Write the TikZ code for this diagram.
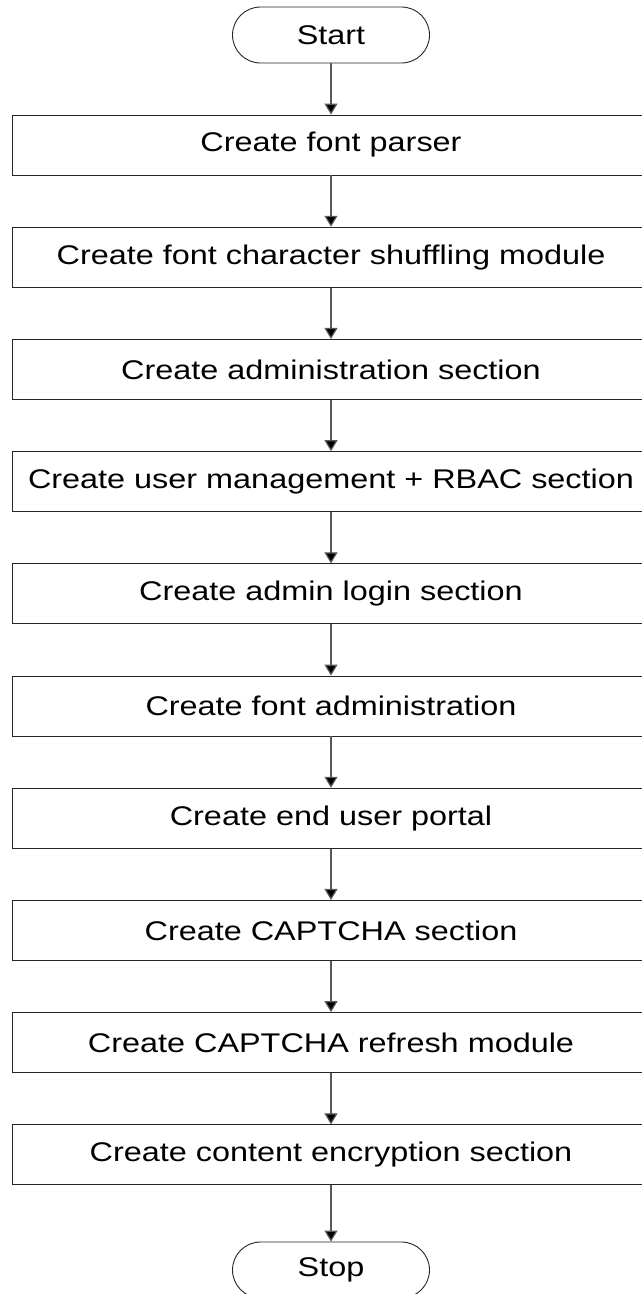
\documentclass[tikz,border=0pt]{standalone}
\usepackage{fontspec}
\setmainfont{Liberation Sans}
\usetikzlibrary{arrows.meta}
\newcommand{\wt}[1]{\scalebox{1.2}[1]{#1}}
\begin{document}
\begin{tikzpicture}[x=1pt,y=-1pt,
  procbox/.style={draw=black!85,line width=0.9pt,minimum width=638pt,minimum height=60pt,inner sep=0pt,font=\fontsize{27}{31}\selectfont},
  term/.style={draw=black!85,line width=0.9pt,minimum width=197pt,minimum height=56pt,rounded corners=28pt,inner sep=0pt,font=\fontsize{27}{31}\selectfont},
  arr/.style={draw=black!65,line width=1.2pt,-{Triangle[length=11pt,width=13pt,fill=black]}}]
\useasboundingbox (0,0) rectangle (642,1294);
\clip (0,0) rectangle (642,1294);
\fill[white] (0,0) rectangle (642,1294);
\node[term] (start) at (331,35) {\wt{Start}};
\node[procbox] (b1) at (331,145) {\wt{Create font parser}};
\node[procbox] (b2) at (331,257.2) {\wt{Create font character shuffling module}};
\node[procbox] (b3) at (331,369.4) {\wt{Create administration section}};
\node[procbox] (b4) at (331,481.6) {\wt{Create user management + RBAC section}};
\node[procbox] (b5) at (331,593.8) {\wt{Create admin login section}};
\node[procbox] (b6) at (331,706) {\wt{Create font administration}};
\node[procbox] (b7) at (331,818.2) {\wt{Create end user portal}};
\node[procbox] (b8) at (331,930.4) {\wt{Create CAPTCHA section}};
\node[procbox] (b9) at (331,1042.6) {\wt{Create CAPTCHA refresh module}};
\node[procbox] (b10) at (331,1154.8) {\wt{Create content encryption section}};
\node[term] (stop) at (331,1270) {\wt{Stop}};
\draw[arr] (start) -- (b1);
\draw[arr] (b1) -- (b2);
\draw[arr] (b2) -- (b3);
\draw[arr] (b3) -- (b4);
\draw[arr] (b4) -- (b5);
\draw[arr] (b5) -- (b6);
\draw[arr] (b6) -- (b7);
\draw[arr] (b7) -- (b8);
\draw[arr] (b8) -- (b9);
\draw[arr] (b9) -- (b10);
\draw[arr] (b10) -- (stop);
\end{tikzpicture}
\end{document}
